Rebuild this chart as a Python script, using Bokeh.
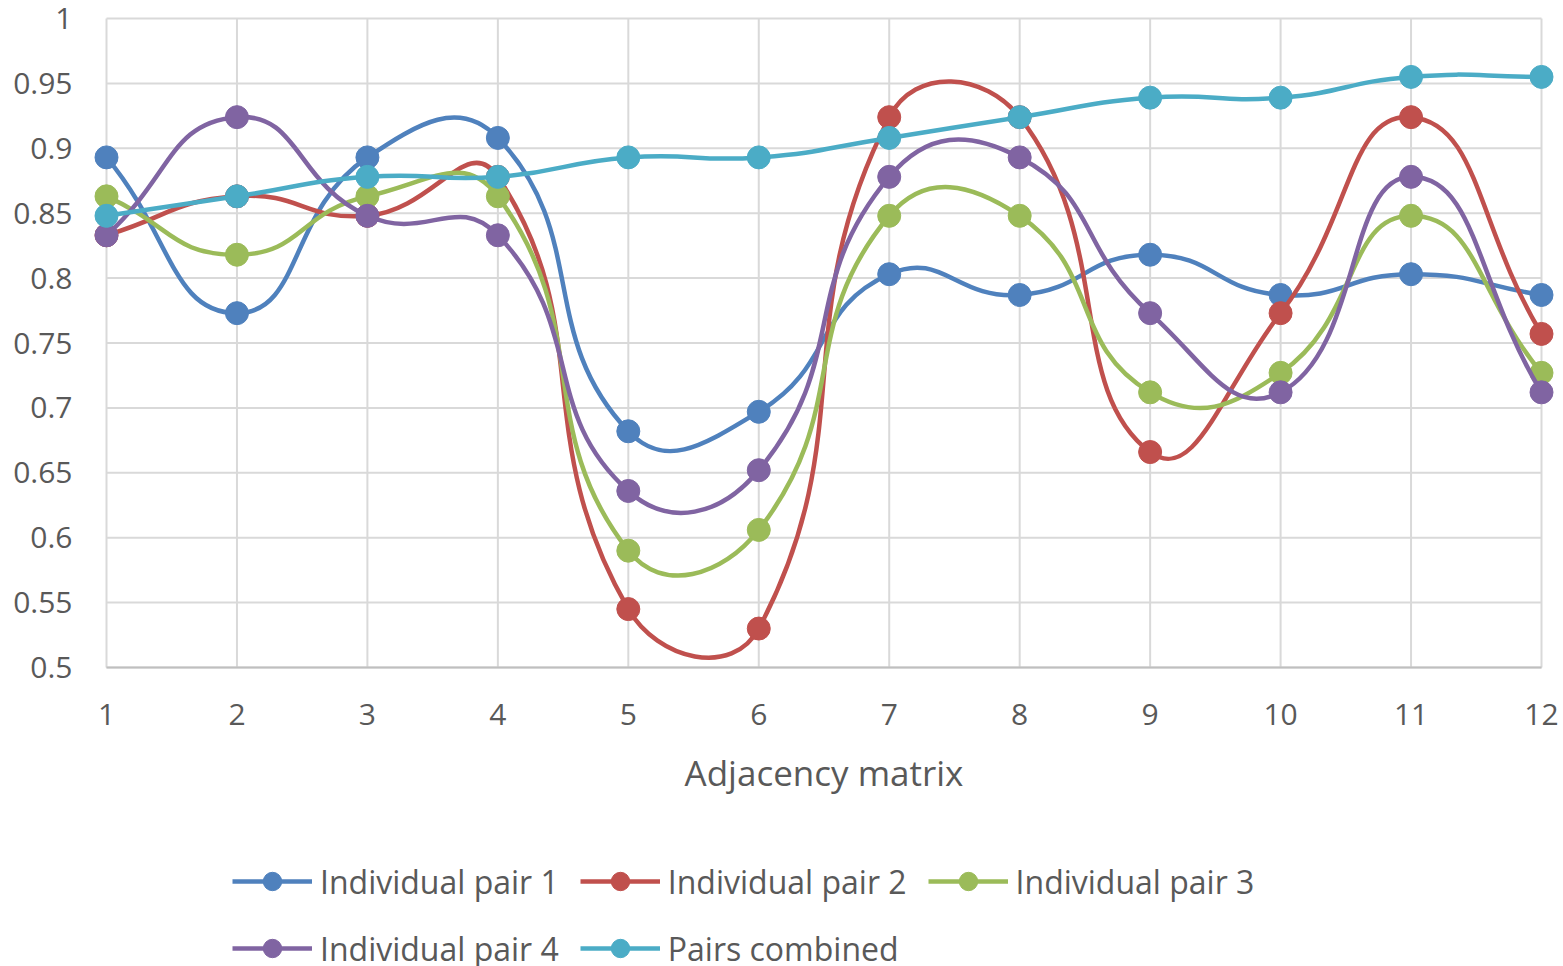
import math
from bokeh.plotting import figure
from bokeh.layouts import column
from bokeh.models import (ColumnDataSource, Range1d, FixedTicker, Legend, LegendItem)
from bokeh.embed import file_html
from bokeh.resources import INLINE

# ---------------- data ----------------
x_vals = [1, 2, 3, 4, 5, 6, 7, 8, 9, 10, 11, 12]
pair1 = [0.893, 0.773, 0.893, 0.908, 0.682, 0.697, 0.803, 0.787, 0.818, 0.787, 0.803, 0.787]
pair2 = [0.833, 0.863, 0.848, 0.878, 0.545, 0.530, 0.924, 0.924, 0.666, 0.773, 0.924, 0.757]
pair3 = [0.863, 0.818, 0.863, 0.863, 0.590, 0.606, 0.848, 0.848, 0.712, 0.727, 0.848, 0.727]
pair4 = [0.833, 0.924, 0.848, 0.833, 0.636, 0.652, 0.878, 0.893, 0.773, 0.712, 0.878, 0.712]
combined = [0.848, 0.863, 0.878, 0.878, 0.893, 0.893, 0.908, 0.924, 0.939, 0.939, 0.955, 0.955]
series_names = ["Individual pair 1", "Individual pair 2", "Individual pair 3",
                "Individual pair 4", "Pairs combined"]
series_vals = [pair1, pair2, pair3, pair4, combined]
colors = ["#4F81BD", "#C0504D", "#9BBB59", "#8064A2", "#4BACC6"]
y_ticks = [0.5, 0.55, 0.6, 0.65, 0.7, 0.75, 0.8, 0.85, 0.9, 0.95, 1.0]
y_tick_labels = ["0.5", "0.55", "0.6", "0.65", "0.7", "0.75", "0.8", "0.85", "0.9", "0.95", "1"]
x_title = "Adjacency matrix"

# ---------------- geometry ----------------
W, H = 1563, 966
H1 = 810                      # main chart height; legend strip below
x0, x1 = 1, 12
y0, y1 = 0.5, 1.0
pad_px = 16
frame_left = 106 - pad_px
frame_right = 1541 + pad_px
frame_top = 18 - pad_px
frame_bottom = 667 + pad_px
sx = (1541 - 106) / (x1 - x0)      # px per x unit
sy = (667 - 18) / (y1 - y0)        # px per y unit
xpad = pad_px / sx
ypad = pad_px / sy

p = figure(width=W, height=H1, output_backend="svg", toolbar_location=None,
           x_range=Range1d(x0 - xpad, x1 + xpad), y_range=Range1d(y0 - ypad, y1 + ypad),
           min_border_left=frame_left, min_border_right=W - frame_right,
           min_border_top=frame_top, min_border_bottom=H1 - frame_bottom)
p.outline_line_color = None
p.background_fill_color = "white"
p.border_fill_color = "white"
p.xgrid.visible = False
p.ygrid.visible = False

grid_col = "#D9D9D9"
p.segment(x0=x_vals, y0=[y0] * len(x_vals), x1=x_vals, y1=[y1] * len(x_vals),
          line_color=grid_col, line_width=2)
p.segment(x0=[x0] * len(y_ticks), y0=y_ticks, x1=[x1] * len(y_ticks), y1=y_ticks,
          line_color=grid_col, line_width=2)
p.segment(x0=[x0], y0=[y0], x1=[x1], y1=[y0], line_color="#BFBFBF", line_width=2)

font = "Open Sans"
txt_col = "#595959"
p.xaxis.ticker = FixedTicker(ticks=x_vals)
p.yaxis.ticker = FixedTicker(ticks=y_ticks)
p.yaxis.major_label_overrides = {t: l for t, l in zip(y_ticks, y_tick_labels)}
for ax in (p.xaxis[0], p.yaxis[0]):
    ax.axis_line_color = None
    ax.major_tick_line_color = None
    ax.minor_tick_line_color = None
    ax.major_tick_in = 0
    ax.major_tick_out = 0
    ax.minor_tick_in = 0
    ax.minor_tick_out = 0
    ax.major_label_text_font = font
    ax.major_label_text_font_size = "30px"
    ax.major_label_text_color = txt_col
p.yaxis.major_label_standoff = 18
p.xaxis.major_label_standoff = 20
p.xaxis.axis_label = x_title
p.xaxis.axis_label_text_font = font
p.xaxis.axis_label_text_font_style = "normal"
p.xaxis.axis_label_text_font_size = "35px"
p.xaxis.axis_label_text_color = txt_col
p.xaxis.axis_label_standoff = 21


def bezier_controls(xs, ys, t=0.5):
    """Excel-like smoothing: cubic Bezier control points, computed in pixel space."""
    n = len(xs)
    P = [(xs[i] * sx, ys[i] * sy) for i in range(n)]
    segs = dict(x0=[], y0=[], x1=[], y1=[], cx0=[], cy0=[], cx1=[], cy1=[])

    def dist(a, b):
        return math.hypot(a[0] - b[0], a[1] - b[1])

    def ctrl(i):
        prev = P[i - 1] if i > 0 else P[i]
        nxt = P[i + 1] if i < n - 1 else P[i]
        d01 = dist(prev, P[i])
        d12 = dist(P[i], nxt)
        s = d01 + d12
        if s == 0:
            return P[i], P[i]
        fa = t * d01 / s
        fb = t * d12 / s
        before = (P[i][0] - fa * (nxt[0] - prev[0]), P[i][1] - fa * (nxt[1] - prev[1]))
        after = (P[i][0] + fb * (nxt[0] - prev[0]), P[i][1] + fb * (nxt[1] - prev[1]))
        return before, after

    ctrls = [ctrl(i) for i in range(n)]
    for i in range(n - 1):
        a = ctrls[i][1]
        b = ctrls[i + 1][0]
        segs["x0"].append(xs[i]); segs["y0"].append(ys[i])
        segs["x1"].append(xs[i + 1]); segs["y1"].append(ys[i + 1])
        segs["cx0"].append(a[0] / sx); segs["cy0"].append(a[1] / sy)
        segs["cx1"].append(b[0] / sx); segs["cy1"].append(b[1] / sy)
    return segs


LW = 4.5
MS = 23
for name, vals, col in zip(series_names, series_vals, colors):
    src = ColumnDataSource(bezier_controls(x_vals, vals))
    p.bezier(x0="x0", y0="y0", x1="x1", y1="y1", cx0="cx0", cy0="cy0",
             cx1="cx1", cy1="cy1", source=src, line_color=col, line_width=LW)
    p.scatter(x=x_vals, y=vals, size=MS, fill_color=col, line_color=col,
              line_width=1, marker="circle")

# ---------------- legend strip (frame is aligned with the main chart's frame) ----------------
H2 = H - H1
q = figure(width=W, height=H2, output_backend="svg", toolbar_location=None,
           x_range=Range1d(0, 1), y_range=Range1d(0, 1),
           min_border_left=frame_left, min_border_right=W - frame_right,
           min_border_top=0, min_border_bottom=0)
q.axis.visible = False
q.grid.visible = False
q.outline_line_color = None
q.background_fill_color = "white"
q.border_fill_color = "white"
items = []
for name, col in zip(series_names, colors):
    # off-range proxies: only their legend glyphs are visible
    lr = q.line(x=[-5, -4], y=[-5, -5], line_color=col, line_width=LW)
    sr = q.scatter(x=[-5], y=[-5], size=MS, fill_color=col, line_color=col, marker="circle")
    items.append(LegendItem(label=name, renderers=[lr, sr]))

row_h = 46
legend_bottom = 948 + row_h // 2          # canvas y of legend's bottom edge
legend = Legend(items=items, orientation="horizontal", ncols=3,
                glyph_width=80, glyph_height=row_h, label_text_font=font,
                label_text_font_size="32px", label_text_color=txt_col,
                label_standoff=8, spacing=67 - row_h, padding=0, margin=0,
                border_line_color=None, background_fill_alpha=0,
                location=(232 - frame_left, H - legend_bottom))
q.add_layout(legend, "center")

layout = column(p, q, spacing=0)
open("out.html", "w").write(file_html(layout, INLINE))
